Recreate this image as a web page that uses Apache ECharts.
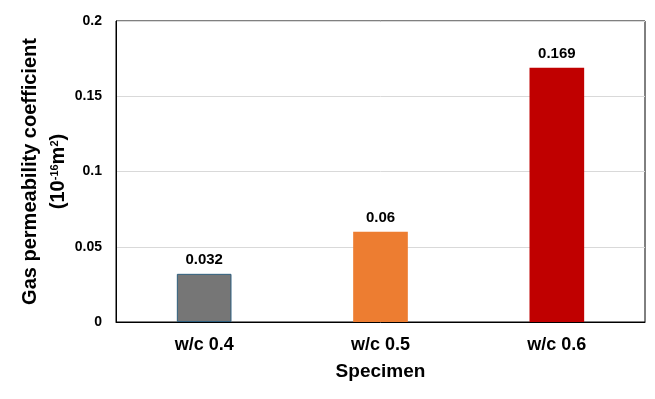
<!DOCTYPE html>
<html>
<head>
<meta charset="utf-8">
<script src="https://cdn.jsdelivr.net/npm/echarts@6/dist/echarts.min.js"></script>
<style>
  html, body { margin: 0; padding: 0; background: #fff; }
  #main { width: 655px; height: 399px; }
</style>
</head>
<body>
<div id="main"></div>
<script>
  var specimens = ["w/c 0.4", "w/c 0.5", "w/c 0.6"];
  var permeability = [0.032, 0.06, 0.169];
  var barColors = ["#767676", "#ED7D31", "#C00000"];
  var yTicks = [0, 0.05, 0.1, 0.15, 0.2];

  var font = "Liberation Sans, Arial, sans-serif";
  var myChart = echarts.init(document.getElementById("main"));

  myChart.setOption({
    animation: false,
    textStyle: { fontFamily: font },
    grid: {
      left: 116, right: 10, top: 21, bottom: 77,
      containLabel: false, outerBoundsMode: "none",
      show: true, borderColor: "#000", borderWidth: 1
    },
    xAxis: {
      type: "category",
      data: specimens,
      axisLine: { lineStyle: { color: "#000" } },
      axisTick: { show: false },
      axisLabel: { color: "#000", fontWeight: "bold", fontSize: 18, margin: 14, fontFamily: font },
      name: "Specimen",
      nameLocation: "middle",
      nameGap: 40,
      nameMoveOverlap: false,
      nameTextStyle: { color: "#000", fontWeight: "bold", fontSize: 19, fontFamily: font }
    },
    yAxis: {
      type: "value",
      min: yTicks[0],
      max: yTicks[yTicks.length - 1],
      interval: 0.05,
      axisLine: { show: true, lineStyle: { color: "#000" } },
      axisTick: { show: false },
      splitLine: { lineStyle: { color: "#d9d9d9" } },
      axisLabel: { color: "#000", fontWeight: "bold", fontSize: 14, margin: 14, fontFamily: font },
      name: "{a|Gas permeability coefficient}\n{a|(10}{s|-16}{a|m}{s|2}{a|)}",
      nameLocation: "middle",
      nameRotate: 90,
      nameGap: 44,
      nameMoveOverlap: false,
      nameTextStyle: {
        rich: {
          a: { color: "#000", fontWeight: "bold", fontSize: 20, lineHeight: 28, fontFamily: font },
          s: { color: "#000", fontWeight: "bold", fontSize: 11, lineHeight: 20, verticalAlign: "top", padding: [5, 0, 0, 0], fontFamily: font }
        }
      }
    },
    series: [{
      type: "bar",
      barWidth: "31%",
      data: permeability.map(function (v, i) {
        return {
          value: v,
          itemStyle: {
            color: barColors[i],
            borderColor: i === 0 ? "#2E5F7F" : barColors[i],
            borderWidth: i === 0 ? 1 : 0
          }
        };
      }),
      label: {
        show: true,
        position: "top",
        distance: 6,
        color: "#000",
        fontWeight: "bold",
        fontSize: 15,
        fontFamily: font
      }
    }]
  });
</script>
</body>
</html>
